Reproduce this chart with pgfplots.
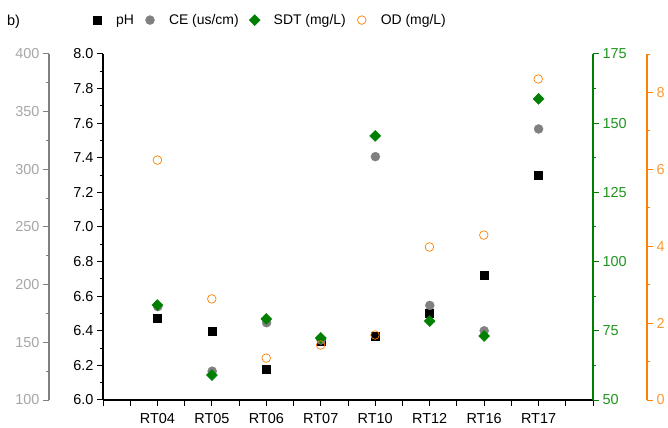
\documentclass[border=0pt]{standalone}
\usepackage{fontspec}
\setmainfont{Liberation Sans}
\usepackage{pgfplots}
\pgfplotsset{compat=1.18}

\definecolor{ceGray}{HTML}{808080}
\definecolor{ceLab}{HTML}{A6A6A6}
\definecolor{sdtGreen}{HTML}{008000}
\definecolor{sdtLab}{HTML}{1E961E}
\definecolor{odOrange}{HTML}{FF8000}
\definecolor{odLab}{HTML}{FF9933}

\pgfplotsset{
  base/.style={
    scale only axis, height=346bp, anchor=south west,
    tick align=outside,
    major tick length=6bp, minor tick length=3bp,
    /pgf/number format/assume math mode=true,
    tick label style={font=\fontsize{14.5}{16}\selectfont},
    clip=false,
  },
}

\begin{document}
\begin{tikzpicture}
\useasboundingbox (0,0) rectangle (668bp,428bp);
\node[anchor=west, inner sep=0pt, font=\fontsize{14.5}{16}\selectfont] at (7bp,406bp) {b)};

% pH (main axis)
\begin{axis}[base, at={(103bp,28bp)}, width=490bp,
  xmin=0, xmax=9, ymin=6, ymax=8,
  axis x line*=bottom, axis y line*=left,
  axis line style={black, line width=1.1bp},
  xtick={0,0.5,...,9},
  xticklabels={{},{},RT04,{},RT05,{},RT06,{},RT07,{},RT10,{},RT12,{},RT16,{},RT17,{},{}},
  x tick style={black, line width=1bp},
  x tick label style={yshift=-4bp},
  ytick={6,6.2,6.4,6.6,6.8,7,7.2,7.4,7.6,7.8,8},
  minor ytick={6.1,6.3,6.5,6.7,6.9,7.1,7.3,7.5,7.7,7.9},
  y tick style={black, line width=1bp},
  yticklabel style={/pgf/number format/.cd, fixed, fixed zerofill, precision=1},
  legend columns=4,
  legend style={at={(-0.0245,1.098)}, anchor=west, draw=none, fill=none, inner sep=0pt,
    font=\fontsize{14}{16}\selectfont,
    /tikz/every even column/.append style={column sep=8bp}},
  legend image code/.code={\path[draw=none] (0,0) -- (23bp,0); \draw[#1] plot coordinates {(6bp,0)};},
]
\addplot[only marks, mark=square*, mark size=4bp, black] coordinates {
  (1,6.47) (2,6.40) (3,6.18) (4,6.34) (5,6.37) (6,6.50) (7,6.72) (8,7.30)
};
\addlegendimage{only marks, mark=*, mark size=4.5bp, ceGray}
\addlegendimage{only marks, mark=square*, mark size=3.9bp, mark options={rotate=45}, sdtGreen}
\addlegendimage{only marks, mark=o, mark size=4.3bp, mark options={line width=0.7bp}, odOrange}
\legend{pH, CE (us/cm), SDT (mg/L), OD (mg/L)}
\end{axis}

% CE (outer left)
\begin{axis}[base, at={(49bp,28bp)}, width=544bp,
  xmin=-1, xmax=9, ymin=100, ymax=400,
  hide x axis, axis y line*=left,
  axis line style={ceGray, line width=1.1bp},
  ytick={100,150,...,400},
  minor ytick={125,175,...,375},
  y tick style={ceGray, line width=1bp},
  yticklabel style={color=ceLab},
]
\addplot[only marks, mark=*, mark size=4.5bp, ceGray] coordinates {
  (1,181) (2,125) (3,167) (4,152) (5,311) (6,182) (7,160) (8,335)
};
\end{axis}

% SDT (inner right)
\begin{axis}[base, at={(103bp,28bp)}, width=490bp,
  xmin=0, xmax=9, ymin=50, ymax=175,
  hide x axis, axis y line*=right,
  axis line style={sdtGreen, line width=1.1bp},
  ytick={50,75,...,175},
  minor ytick={62.5,87.5,112.5,137.5,162.5},
  y tick style={sdtGreen, line width=1bp},
  yticklabel style={color=sdtLab},
]
\addplot[only marks, mark=square*, mark size=3.9bp, mark options={rotate=45}, sdtGreen] coordinates {
  (1,84.3) (2,59.0) (3,79.3) (4,72.4) (5,145.4) (6,78.5) (7,73.1) (8,158.8)
};
\end{axis}

% OD (outer right)
\begin{axis}[base, at={(103bp,28bp)}, width=544bp,
  xmin=0, xmax=10, ymin=0, ymax=9,
  hide x axis, axis y line*=right,
  axis line style={odOrange, line width=1.1bp},
  ytick={0,2,4,6,8},
  minor ytick={1,3,5,7,9},
  y tick style={odOrange, line width=1bp},
  yticklabel style={color=odLab},
]
\addplot[only marks, mark=o, mark size=4.3bp, mark options={line width=0.7bp}, odOrange] coordinates {
  (1,6.24) (2,2.63) (3,1.09) (4,1.43) (5,1.69) (6,3.98) (7,4.29) (8,8.35)
};
\end{axis}
\end{tikzpicture}
\end{document}
